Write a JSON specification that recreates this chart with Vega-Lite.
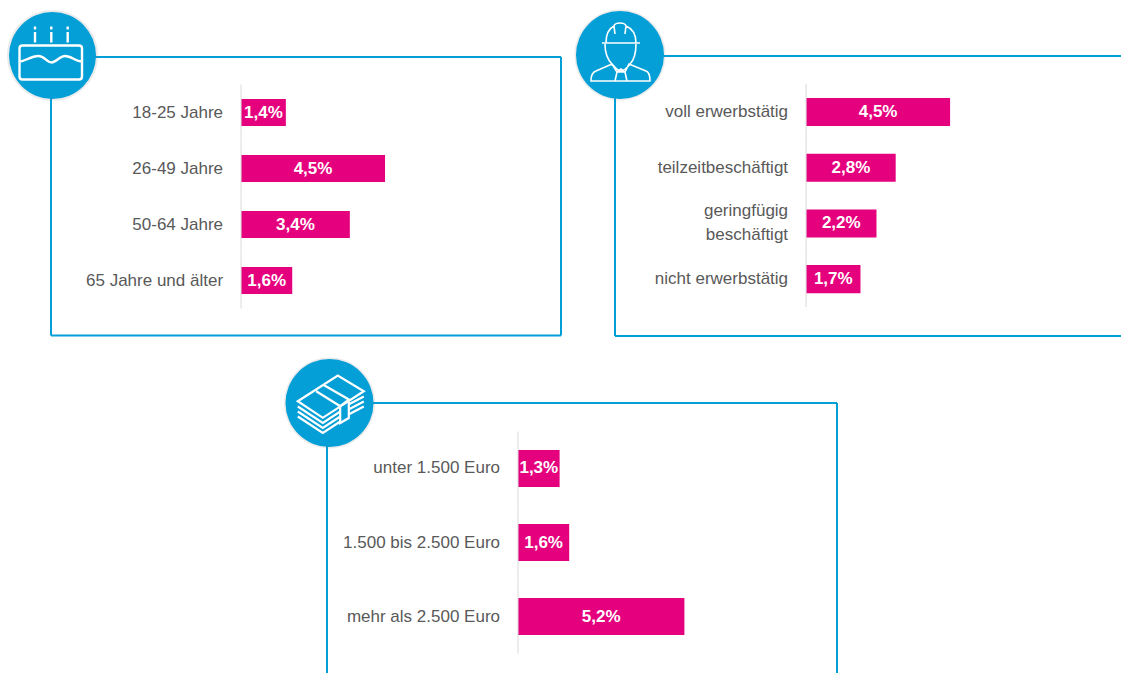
{"$schema":"https://vega.github.io/schema/vega-lite/v6.json","background":"white","padding":{"left":7,"top":9,"right":0,"bottom":0},"config":{"view":{"stroke":null},"axis":{"grid":false}},"spacing":20,"vconcat":[{"bounds":"flush","spacing":54,"hconcat":[
{"width":510,"height":280,"resolve":{"scale":{"y":"independent"}},"layer":[
{"data":{"values":[{"k":"18-25 Jahre","v":1.4,"t":"1,4%"},{"k":"26-49 Jahre","v":4.5,"t":"4,5%"},{"k":"50-64 Jahre","v":3.4,"t":"3,4%"},{"k":"65 Jahre und älter","v":1.6,"t":"1,6%"}]},"transform":[{"calculate":"datum.v/2","as":"m"}],
"encoding":{"y":{"field":"k","type":"nominal","sort":null,"axis":null,"scale":{"paddingInner":0.52,"paddingOuter":0.76,"align":0.506}}},
"layer":[
{"mark":{"type":"bar","color":"#E5007D"},"encoding":{"x":{"field":"v","type":"quantitative","axis":null,"scale":{"domain":[-5.94,10],"nice":false,"zero":false}}}},
{"mark":{"type":"tick","orient":"vertical","color":"#d9d9d9","size":56,"thickness":1,"opacity":1},"encoding":{"x":{"datum":0,"type":"quantitative"}}},
{"mark":{"type":"text","align":"center","baseline":"middle","font":"Liberation Sans","fontSize":17,"fontWeight":"bold","color":"white"},"encoding":{"x":{"field":"m","type":"quantitative"},"text":{"field":"t"}}},
{"mark":{"type":"text","align":"right","baseline":"middle","dx":-18,"font":"Liberation Sans","fontSize":17,"color":"#595959"},"encoding":{"x":{"datum":0,"type":"quantitative"},"text":{"field":"k"}}}
]},
{"data":{"values":[{"e":1}]},"layer":[
{"mark":{"type":"rule","color":"#049fd6","strokeWidth":2},"encoding":{"x":{"datum":-5.94,"type":"quantitative"},"y":{"datum":1,"type":"quantitative","axis":null,"scale":{"domain":[0,1]}},"y2":{"datum":0.002}}},
{"mark":{"type":"rule","color":"#049fd6","strokeWidth":2},"encoding":{"x":{"datum":10,"type":"quantitative"},"y":{"datum":0.9964,"type":"quantitative"},"y2":{"datum":0.002}}},
{"mark":{"type":"rule","color":"#049fd6","strokeWidth":2},"encoding":{"x":{"datum":-5.94,"type":"quantitative"},"x2":{"datum":10},"y":{"datum":0.9964,"type":"quantitative"}}},
{"mark":{"type":"rule","color":"#049fd6","strokeWidth":2},"encoding":{"x":{"datum":-5.94,"type":"quantitative"},"x2":{"datum":10},"y":{"datum":0.002,"type":"quantitative"}}},
{"mark":{"type":"point","shape":"circle","filled":true,"size":8281,"color":"#777777","opacity":0.15},"encoding":{"x":{"datum":-5.893,"type":"quantitative"},"y":{"datum":1.002,"type":"quantitative"}}},
{"mark":{"type":"point","shape":"circle","filled":true,"size":7569,"color":"#049fd6","opacity":1},"encoding":{"x":{"datum":-5.893,"type":"quantitative"},"y":{"datum":1.002,"type":"quantitative"}}},
{"mark":{"type":"point","shape":"M -17.5 -29 V -26 M -17.5 -23.5 V -13 M -1.2 -29 V -26 M -1.2 -23.5 V -13 M 15.2 -29 V -26 M 15.2 -23.5 V -13 M -30 -10 H 26.5 Q 29.5 -10 29.5 -7 V 21 Q 29.5 24 26.5 24 H -30 Q -33 24 -33 21 V -7 Q -33 -10 -30 -10 Z M -33 6 C -27 6 -22 0.5 -14 0.5 C -8 0.5 -6 7 -1 7 C 4 7 7 0.5 12.5 0.5 C 19 0.5 23 6 29.5 6","size":4,"filled":false,"stroke":"white","strokeWidth":2.4,"opacity":1},"encoding":{"x":{"datum":-5.893,"type":"quantitative"},"y":{"datum":1.002,"type":"quantitative"}}}
]}
]},
{"width":506,"height":280,"resolve":{"scale":{"y":"independent"}},"layer":[
{"data":{"values":[{"k":"voll erwerbstätig","v":4.5,"t":"4,5%"},{"k":"teilzeitbeschäftigt","v":2.8,"t":"2,8%"},{"k":"geringfügig\nbeschäftigt","v":2.2,"t":"2,2%"},{"k":"nicht erwerbstätig","v":1.7,"t":"1,7%"}]},"transform":[{"calculate":"datum.v/2","as":"m"}],
"encoding":{"y":{"field":"k","type":"nominal","sort":null,"axis":null,"scale":{"paddingInner":0.497,"paddingOuter":0.762,"align":0.495}}},
"layer":[
{"mark":{"type":"bar","color":"#E5007D"},"encoding":{"x":{"field":"v","type":"quantitative","axis":null,"scale":{"domain":[-5.97,9.84],"nice":false,"zero":false}}}},
{"mark":{"type":"tick","orient":"vertical","color":"#d9d9d9","size":56,"thickness":1,"opacity":1},"encoding":{"x":{"datum":0,"type":"quantitative"}}},
{"mark":{"type":"text","align":"center","baseline":"middle","font":"Liberation Sans","fontSize":17,"fontWeight":"bold","color":"white"},"encoding":{"x":{"field":"m","type":"quantitative"},"text":{"field":"t"}}},
{"transform":[{"filter":"indexof(datum.k,'\\n')<0"}],"mark":{"type":"text","align":"right","baseline":"middle","dx":-18,"font":"Liberation Sans","fontSize":17,"color":"#595959"},"encoding":{"x":{"datum":0,"type":"quantitative"},"text":{"field":"k"}}},
{"transform":[{"filter":"indexof(datum.k,'\\n')>=0"}],"mark":{"type":"text","align":"right","baseline":"middle","dx":-18,"dy":-12,"lineBreak":"\n","lineHeight":24,"font":"Liberation Sans","fontSize":17,"color":"#595959"},"encoding":{"x":{"datum":0,"type":"quantitative"},"text":{"field":"k"}}}
]},
{"data":{"values":[{"e":1}]},"layer":[
{"mark":{"type":"rule","color":"#049fd6","strokeWidth":2},"encoding":{"x":{"datum":-5.97,"type":"quantitative"},"y":{"datum":1,"type":"quantitative","axis":null,"scale":{"domain":[0,1]}},"y2":{"datum":0}}},
{"mark":{"type":"rule","color":"#049fd6","strokeWidth":2},"encoding":{"x":{"datum":-5.97,"type":"quantitative"},"x2":{"datum":9.84},"y":{"datum":1,"type":"quantitative"}}},
{"mark":{"type":"rule","color":"#049fd6","strokeWidth":2},"encoding":{"x":{"datum":-5.97,"type":"quantitative"},"x2":{"datum":9.84},"y":{"datum":0,"type":"quantitative"}}},
{"mark":{"type":"point","shape":"circle","filled":true,"size":8281,"color":"#777777","opacity":0.15},"encoding":{"x":{"datum":-5.814,"type":"quantitative"},"y":{"datum":1.0036,"type":"quantitative"}}},
{"mark":{"type":"point","shape":"circle","filled":true,"size":7744,"color":"#049fd6","opacity":1},"encoding":{"x":{"datum":-5.814,"type":"quantitative"},"y":{"datum":1.0036,"type":"quantitative"}}},
{"mark":{"type":"point","shape":"M -18 -12 H 20 M -14 -12 C -14 -22 -10 -27 -6 -29 C -5 -33 5 -33 6 -29 C 11 -27 16 -22 16 -12 M -6 -29 L -5 -21 M 6 -29 L 5 -21 M -15 -11 C -15 -2 -12 5 -8 9 C -4 13 -2 16 1 16 C 4 16 7 13 10 9 C 14 5 16 -2 16 -11 M -29 26 C -29 19 -27 17 -24 16 L -8 9 L -3 17 L 1 14 L 5 17 L 9 9 L 26 16 C 29 17 30 20 30 26 Z M -3 17 L -5 26 M 5 17 L 7 26 M -3 17 H 5","size":4,"filled":false,"stroke":"white","strokeWidth":1.6,"opacity":1},"encoding":{"x":{"datum":-5.814,"type":"quantitative"},"y":{"datum":1.0036,"type":"quantitative"}}}
]}
]}
]},
{"bounds":"flush","spacing":0,"hconcat":[
{"width":276,"height":270,"data":{"values":[]},"mark":{"type":"point","opacity":0},"encoding":{}},
{"width":510,"height":270,"resolve":{"scale":{"y":"independent"}},"layer":[
{"data":{"values":[{"k":"unter 1.500 Euro","v":1.3,"t":"1,3%"},{"k":"1.500 bis 2.500 Euro","v":1.6,"t":"1,6%"},{"k":"mehr als 2.500 Euro","v":5.2,"t":"5,2%"}]},"transform":[{"calculate":"datum.v/2","as":"m"}],
"encoding":{"y":{"field":"k","type":"nominal","sort":null,"axis":null,"scale":{"paddingInner":0.5,"paddingOuter":0.574,"align":0.553}}},
"layer":[
{"mark":{"type":"bar","color":"#E5007D"},"encoding":{"x":{"field":"v","type":"quantitative","axis":null,"scale":{"domain":[-5.97,9.97],"nice":false,"zero":false}}}},
{"mark":{"type":"tick","orient":"vertical","color":"#d9d9d9","size":74,"thickness":1,"opacity":1},"encoding":{"x":{"datum":0,"type":"quantitative"}}},
{"mark":{"type":"text","align":"center","baseline":"middle","font":"Liberation Sans","fontSize":17,"fontWeight":"bold","color":"white"},"encoding":{"x":{"field":"m","type":"quantitative"},"text":{"field":"t"}}},
{"mark":{"type":"text","align":"right","baseline":"middle","dx":-18,"font":"Liberation Sans","fontSize":17,"color":"#595959"},"encoding":{"x":{"datum":0,"type":"quantitative"},"text":{"field":"k"}}}
]},
{"data":{"values":[{"e":1}]},"layer":[
{"mark":{"type":"rule","color":"#049fd6","strokeWidth":2},"encoding":{"x":{"datum":-5.97,"type":"quantitative"},"y":{"datum":1,"type":"quantitative","axis":null,"scale":{"domain":[0,1]}},"y2":{"datum":0}}},
{"mark":{"type":"rule","color":"#049fd6","strokeWidth":2},"encoding":{"x":{"datum":9.97,"type":"quantitative"},"y":{"datum":1,"type":"quantitative"},"y2":{"datum":0}}},
{"mark":{"type":"rule","color":"#049fd6","strokeWidth":2},"encoding":{"x":{"datum":-5.97,"type":"quantitative"},"x2":{"datum":9.97},"y":{"datum":1,"type":"quantitative"}}},
{"mark":{"type":"point","shape":"circle","filled":true,"size":8281,"color":"#777777","opacity":0.15},"encoding":{"x":{"datum":-5.892,"type":"quantitative"},"y":{"datum":1,"type":"quantitative"}}},
{"mark":{"type":"point","shape":"circle","filled":true,"size":7744,"color":"#049fd6","opacity":1},"encoding":{"x":{"datum":-5.892,"type":"quantitative"},"y":{"datum":1,"type":"quantitative"}}},
{"mark":{"type":"point","shape":"M -31.7 -1.8 L 8.3 -27.5 L 34.3 -11.8 L -6.7 14.8 Z M -31.7 3.5 L -6.7 20 L 10 9 M -31.7 8.5 L -6.7 25 L 10 14 M -31.7 13.5 L -6.7 30 L 10 19 M 20 1 L 34.3 -6.5 M 20 6 L 34.3 -1.5 M 20 11 L 34.3 3.5 M -6.7 -18.5 L 19.3 -3.5 V 15 L 10.7 20 V 3.2 L -13.3 -11.8 M 10.7 3.2 L 19.3 -3.5","size":4,"filled":false,"stroke":"white","strokeWidth":2.2,"opacity":1},"encoding":{"x":{"datum":-5.892,"type":"quantitative"},"y":{"datum":1,"type":"quantitative"}}}
]}
]}
]}
]}
